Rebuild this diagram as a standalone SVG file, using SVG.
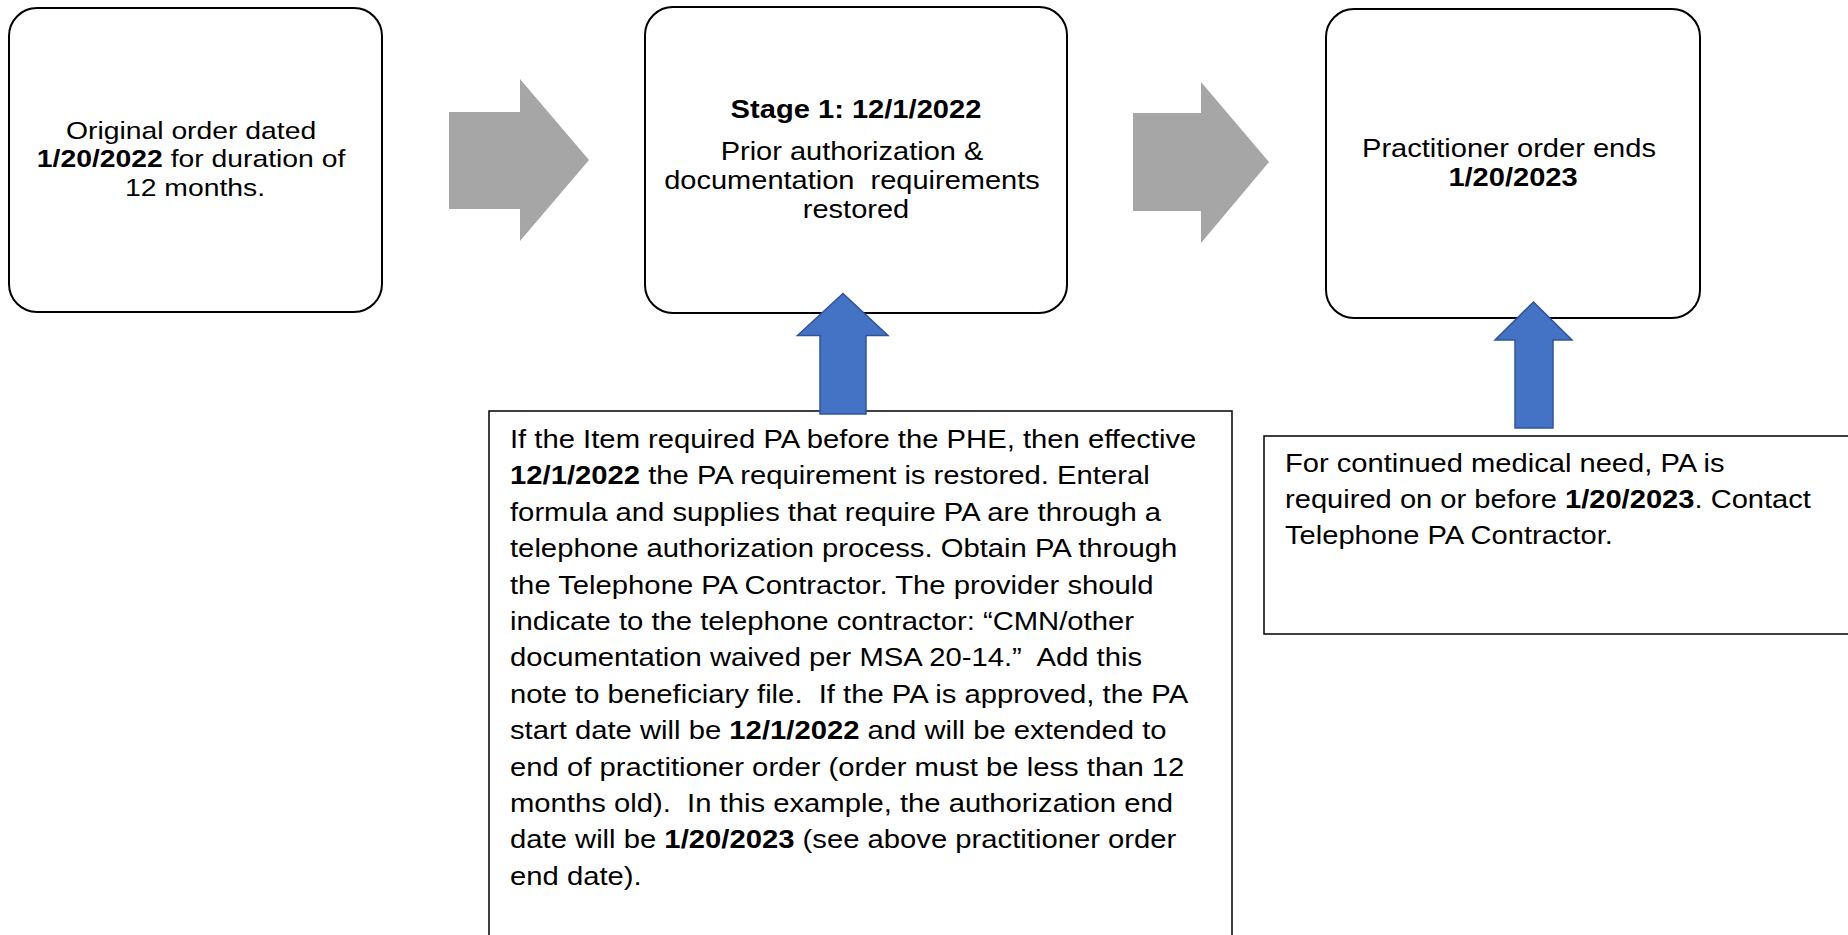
<svg xmlns="http://www.w3.org/2000/svg" width="1848" height="935" viewBox="0 0 1848 935">
<style>
  text { font-family: "Liberation Sans", Arial, sans-serif; fill: #000; }
  .stage { fill: #fff; stroke: #000; stroke-width: 2; }
  .note { fill: #fff; stroke: #000; stroke-width: 1.5; }
  .b { font-weight: bold; }
  .grey { fill: #A6A6A6; stroke: none; }
  .blue { fill: #4472C4; stroke: #2F5597; stroke-width: 1.5; stroke-linejoin: miter; }
</style>
<rect x="0" y="0" width="1848" height="935" fill="#fff"/>

<g id="node-original-order">
  <rect class="stage" x="9" y="8" width="373" height="304" rx="28" ry="28"/>
  <text transform="translate(195,0) scale(1.18,1)" text-anchor="middle" font-size="24">
    <tspan x="0" y="139">Original order dated</tspan>
    <tspan x="0" y="167.5"><tspan class="b">1/20/2022</tspan> for duration of</tspan>
    <tspan x="0" y="196">12 months.</tspan>
  </text>
</g>

<g id="node-stage1">
  <rect class="stage" x="645" y="7" width="422" height="306" rx="28" ry="28"/>
  <text transform="translate(856,0) scale(1.12,1)" text-anchor="middle" font-size="26">
    <tspan class="b" x="0" y="118">Stage 1: 12/1/2022</tspan>
  </text>
  <text transform="translate(856,0) scale(1.16,1)" text-anchor="middle" font-size="25">
    <tspan x="0" y="160">Prior authorization &amp;</tspan>
    <tspan x="0" y="189">documentation&#160; requirements</tspan>
    <tspan x="0" y="218">restored</tspan>
  </text>
</g>

<g id="node-order-ends">
  <rect class="stage" x="1326" y="9" width="374" height="309" rx="28" ry="28"/>
  <text transform="translate(1513,0) scale(1.14,1)" text-anchor="middle" font-size="25.5">
    <tspan x="0" y="157">Practitioner order ends</tspan>
    <tspan class="b" x="0" y="186">1/20/2023</tspan>
  </text>
</g>

<g id="node-stage1-note">
  <rect class="note" x="489" y="411" width="743" height="540"/>
  <text transform="translate(510,0) scale(1.125,1)" font-size="26">
    <tspan x="0" y="448">If the Item required PA before the PHE, then effective</tspan>
    <tspan x="0" y="484.4"><tspan class="b">12/1/2022</tspan> the PA requirement is restored. Enteral</tspan>
    <tspan x="0" y="520.8">formula and supplies that require PA are through a</tspan>
    <tspan x="0" y="557.2">telephone authorization process. Obtain PA through</tspan>
    <tspan x="0" y="593.6">the Telephone PA Contractor. The provider should</tspan>
    <tspan x="0" y="630">indicate to the telephone contractor: “CMN/other</tspan>
    <tspan x="0" y="666.4">documentation waived per MSA 20-14.”&#160; Add this</tspan>
    <tspan x="0" y="702.8">note to beneficiary file.&#160; If the PA is approved, the PA</tspan>
    <tspan x="0" y="739.2">start date will be <tspan class="b">12/1/2022</tspan> and will be extended to</tspan>
    <tspan x="0" y="775.6">end of practitioner order (order must be less than 12</tspan>
    <tspan x="0" y="812">months old).&#160; In this example, the authorization end</tspan>
    <tspan x="0" y="848.4">date will be <tspan class="b">1/20/2023</tspan> (see above practitioner order</tspan>
    <tspan x="0" y="884.8">end date).</tspan>
  </text>
</g>

<g id="node-order-ends-note">
  <rect class="note" x="1264" y="436" width="600" height="198"/>
  <text transform="translate(1285,0) scale(1.12,1)" font-size="26">
    <tspan x="0" y="472">For continued medical need, PA is</tspan>
    <tspan x="0" y="508">required on or before <tspan class="b">1/20/2023</tspan>. Contact</tspan>
    <tspan x="0" y="544">Telephone PA Contractor.</tspan>
  </text>
</g>

<g id="connectors">
  <polygon id="arrow-original-to-stage1" class="grey" points="449,112 520,112 520,79 589,160 520,241 520,209 449,209"/>
  <polygon id="arrow-stage1-to-ends" class="grey" points="1133,113 1201,113 1201,82 1269,162 1201,243 1201,211 1133,211"/>
  <polygon id="arrow-note-to-stage1" class="blue" points="843,293.5 888,335.5 866,335.5 866,414 820,414 820,335.5 797.5,335.5"/>
  <polygon id="arrow-note-to-ends" class="blue" points="1533.5,302 1572,340 1553,340 1553,428 1515,428 1515,340 1495,340"/>
</g>
</svg>
